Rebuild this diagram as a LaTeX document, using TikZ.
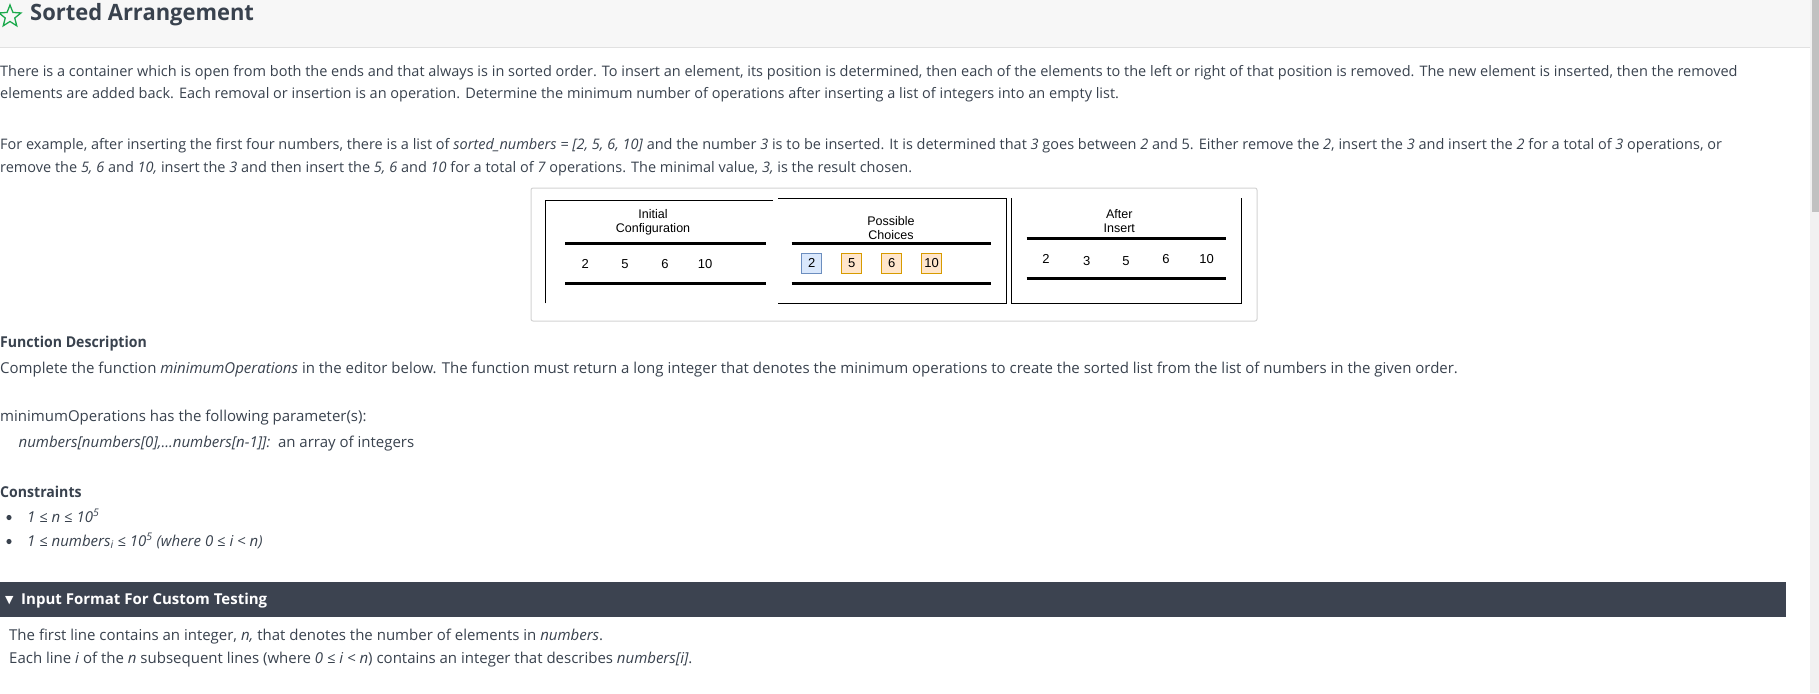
\documentclass[tikz,border=0pt]{standalone}
\usepackage{fontspec}
\setmainfont{Open Sans}
\newfontfamily\bodyfont{Open Sans}
\newfontfamily\headfont{Open Sans}[FakeStretch=0.94]
\newfontfamily\titlefont{Open Sans}[FakeStretch=0.975]
\newfontfamily\figfont{Liberation Sans}
\newfontfamily\symfont{DejaVu Sans}
\usetikzlibrary{shapes.geometric}
\definecolor{ink}{HTML}{39424E}
\definecolor{headbg}{HTML}{F7F7F7}
\definecolor{headline}{HTML}{E1E1E1}
\definecolor{barbg}{HTML}{3C4350}
\definecolor{stargreen}{HTML}{1BA94C}
\definecolor{frame}{HTML}{D3D3D3}
\definecolor{bluefill}{HTML}{DAE8FC}
\definecolor{blueedge}{HTML}{6C8EBF}
\definecolor{orangefill}{HTML}{FFE6CC}
\definecolor{orangeedge}{HTML}{D79B00}
\definecolor{track}{HTML}{F1F1F1}
\definecolor{thumb}{HTML}{C1C1C1}

\begin{document}
\begin{tikzpicture}[x=1pt,y=-1pt,
    txt/.style={anchor=base west,inner sep=0pt,text=ink,font=\bodyfont\fontsize{14.5}{17}\selectfont},
    low/.style={anchor=base west,inner sep=0pt,text=ink,font=\bodyfont\fontsize{15}{18}\selectfont},
    lbl/.style={align=center,inner sep=0pt,font=\figfont\fontsize{12.5}{13.6}\selectfont},
    num/.style={inner sep=0pt,font=\figfont\fontsize{13}{15}\selectfont},
    pickA/.style={draw=blueedge,fill=bluefill,line width=0.8pt,minimum size=20pt,inner sep=0pt,font=\figfont\fontsize{13}{15}\selectfont},
    pickB/.style={draw=orangeedge,fill=orangefill,line width=0.8pt,minimum size=20pt,inner sep=0pt,font=\figfont\fontsize{13}{15}\selectfont},
    rail/.style={line width=2.7pt},
    wall/.style={line width=1pt}]
    \useasboundingbox(0,0)rectangle(1819,693);
    \fill[white](0,0)rectangle(1819,693);

    % header and scrollbar
    \fill[headbg](0,0)rectangle(1810,47);
    \draw[headline,line width=1.2pt](0,47.3)--(1810,47.3);
    \fill[track](1810,0)rectangle(1819,693);
    \fill[thumb](1811.7,0)rectangle(1819,211.7);
    \node[star,star points=5,star point ratio=2.3,draw=stargreen,line width=1.3pt,minimum size=23pt,inner sep=0pt](star)at(10,16.5){};
    \node[anchor=base west,inner sep=0pt,text=ink,font=\titlefont\bfseries\fontsize{22.5}{26}\selectfont](title)at(30,20.7){Sorted Arrangement};

    % problem text
    \node[txt](pa1)at(0,76){There is a container which is open from both the ends and that always is in sorted order. To insert an element, its position is determined, then each of the elements to the left or right of that position is removed. The new element is inserted, then the removed};
    \node[txt](pa2)at(0,98.5){elements are added back. Each removal or insertion is an operation. Determine the minimum number of operations after inserting a list of integers into an empty list.};
    \node[txt](pb1)at(0,149){For example, after inserting the first four numbers, there is a list of \textit{sorted\_numbers = [2, 5, 6, 10]} and the number \textit{3} is to be inserted. It is determined that \textit{3} goes between \textit{2} and 5. Either remove the \textit{2}, insert the \textit{3} and insert the \textit{2} for a total of \textit{3} operations, or};
    \node[txt](pb2)at(0,172){remove the \textit{5, 6} and \textit{10,} insert the \textit{3} and then insert the \textit{5, 6} and \textit{10} for a total of \textit{7} operations. The minimal value, \textit{3,} is the result chosen.};

    % example picture
    \draw[frame,line width=1pt,rounded corners=2pt](531,188)rectangle(1257,321);
    \draw[wall](545.7,303.3)--(545.7,200)--(773.3,200);
    \draw[wall](778.3,198.3)--(1006.3,198.3)--(1006.3,303.3)--(778.3,303.3);
    \draw[wall](1011.7,198.3)--(1011.7,303.3)--(1241.7,303.3)--(1241.7,198.3);
    \draw[rail](565,243.3)--(765.7,243.3);
    \draw[rail](565,283.3)--(765.7,283.3);
    \draw[rail](791.7,243.3)--(991,243.3);
    \draw[rail](791.7,283.3)--(991,283.3);
    \draw[rail](1026.7,238.3)--(1226,238.3);
    \draw[rail](1026.7,278.3)--(1226,278.3);
    \node[lbl](initial)at(653,222.5){Initial\\Configuration};
    \node[lbl](choices)at(891,228.3){Possible\\Choices};
    \node[lbl](after)at(1119.3,221){After\\Insert};
    \node[num](i2)at(585.3,264){2};
    \node[num](i5)at(625,264){5};
    \node[num](i6)at(665,264){6};
    \node[num](i10)at(705,264){10};
    \node[pickA](c2)at(811.7,263.3){2};
    \node[pickB](c5)at(851.7,263.3){5};
    \node[pickB](c6)at(891.7,263.3){6};
    \node[pickB](c10)at(931.7,263.3){10};
    \node[num](a2)at(1046,259){2};
    \node[num](a3)at(1086.7,261){3};
    \node[num](a5)at(1126,261){5};
    \node[num](a6)at(1166,259){6};
    \node[num](a10)at(1206.7,259){10};

    % function description
    \node[low,font=\headfont\bfseries\fontsize{15}{18}\selectfont](fdesc)at(0,347){Function Description};
    \node[low](fcomp)at(0,373){Complete the function \textit{minimumOperations} in the editor below. The function must return a long integer that denotes the minimum operations to create the sorted list from the list of numbers in the given order.};
    \node[low](fpar)at(0,421){minimumOperations has the following parameter(s):};
    \node[low](farg)at(18.5,447){\textit{numbers[numbers[0],...numbers[n-1]]:}\ \ an array of integers};
    \node[low,font=\headfont\bfseries\fontsize{15}{18}\selectfont](cons)at(0,497){Constraints};
    \fill[ink](9,517.5)circle(2.6);
    \fill[ink](9,541.5)circle(2.6);
    \node[low](con1)at(27,522){\textit{1 ≤ n ≤ 10\textsuperscript{5}}};
    \node[low](con2)at(27,546){\textit{1 ≤ numbers\textsubscript{i} ≤ 10\textsuperscript{5} (where 0 ≤ i < n)}};

    % input format bar
    \fill[barbg](0,581.7)rectangle(1786,616.7);
    \node[anchor=base west,inner sep=0pt,text=white,font=\symfont\fontsize{11}{13}\selectfont](tri)at(5,603.5){▼};
    \node[anchor=base west,inner sep=0pt,text=white,font=\bodyfont\bfseries\fontsize{15}{18}\selectfont](bar)at(21,604){Input Format For Custom Testing};
    \node[low](in1)at(9,640){The first line contains an integer, \textit{n,} that denotes the number of elements in \textit{numbers}.};
    \node[low](in2)at(9,663){Each line \textit{i} of the \textit{n} subsequent lines (where \textit{0 ≤ i < n}) contains an integer that describes \textit{numbers[i]}.};
\end{tikzpicture}
\end{document}
